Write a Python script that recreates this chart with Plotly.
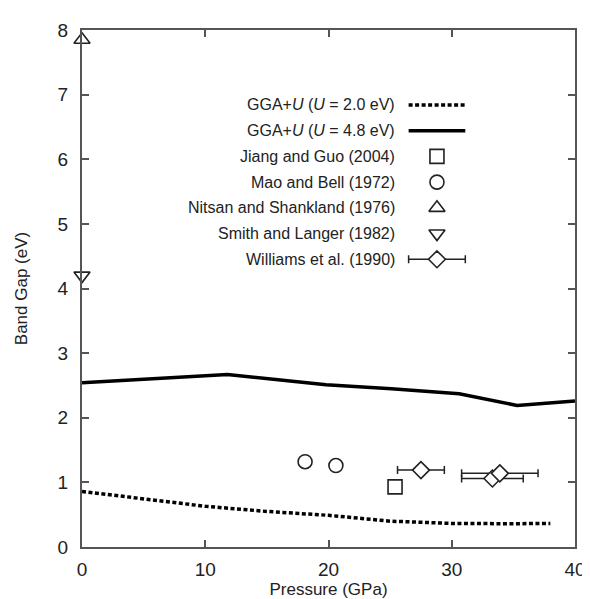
import plotly.graph_objects as go

# ---- data ----
u20_p = [0, 5, 10, 15, 20, 25, 30, 35, 38]
u20_gap = [0.86, 0.74, 0.63, 0.55, 0.49, 0.40, 0.365, 0.36, 0.365]

u48_p = [0, 5, 11.8, 19.8, 25.1, 30.6, 35.3, 40]
u48_gap = [2.54, 2.60, 2.67, 2.51, 2.45, 2.37, 2.19, 2.26]

jiang_p = [25.4]
jiang_gap = [0.93]

mao_p = [18.1, 20.6]
mao_gap = [1.32, 1.26]

nitsan_p = [0]
nitsan_gap = [7.85]

smith_p = [0]
smith_gap = [4.2]

williams_p = [27.5, 33.3, 33.9]
williams_gap = [1.19, 1.06, 1.14]
williams_err = [1.9, 2.5, 3.1]

legend_labels = [
    "GGA+<i>U</i> (<i>U</i> = 2.0 eV)",
    "GGA+<i>U</i> (<i>U</i> = 4.8 eV)",
    "Jiang and Guo (2004)",
    "Mao and Bell (1972)",
    "Nitsan and Shankland (1976)",
    "Smith and Langer (1982)",
    "Williams et al. (1990)",
]

FONT = "Liberation Sans, Arial, sans-serif"
TXT = "#222222"
AX = "#555555"
MK = dict(color="white", line=dict(color="#222222", width=1.6))

fig = go.Figure()

fig.add_trace(go.Scatter(x=u20_p, y=u20_gap, mode="lines",
                         line=dict(color="black", width=3.5, dash="4px,2.5px"),
                         showlegend=False, cliponaxis=False))
fig.add_trace(go.Scatter(x=u48_p, y=u48_gap, mode="lines",
                         line=dict(color="black", width=3.5),
                         showlegend=False, cliponaxis=False))
fig.add_trace(go.Scatter(x=jiang_p, y=jiang_gap, mode="markers",
                         marker=dict(symbol="square", size=14, **MK),
                         showlegend=False, cliponaxis=False))
fig.add_trace(go.Scatter(x=mao_p, y=mao_gap, mode="markers",
                         marker=dict(symbol="circle", size=14, **MK),
                         showlegend=False, cliponaxis=False))
fig.add_trace(go.Scatter(x=nitsan_p, y=nitsan_gap, mode="markers",
                         marker=dict(symbol="triangle-up", size=14, **MK),
                         showlegend=False, cliponaxis=False))
fig.add_trace(go.Scatter(x=smith_p, y=smith_gap, mode="markers",
                         marker=dict(symbol="triangle-down", size=14, **MK),
                         showlegend=False, cliponaxis=False))
fig.add_trace(go.Scatter(x=williams_p, y=williams_gap, mode="markers",
                         marker=dict(symbol="diamond", size=13, **MK),
                         error_x=dict(type="data", array=williams_err, color="#222222",
                                      thickness=1.5, width=4),
                         showlegend=False, cliponaxis=False))

# ---- custom legend (text left, sample right) ----
leg_text_x = 25.55
leg_x0, leg_x1 = 26.5, 31.1
leg_xc = (leg_x0 + leg_x1) / 2
leg_y0, leg_dy = 6.84, 0.398
rows = [leg_y0 - i * leg_dy for i in range(len(legend_labels))]

for lab, yy in zip(legend_labels, rows):
    fig.add_annotation(x=leg_text_x, y=yy, text=lab, showarrow=False,
                       xanchor="right", yanchor="middle",
                       font=dict(family=FONT, size=16, color=TXT))

fig.add_trace(go.Scatter(x=[leg_x0, leg_x1], y=[rows[0]] * 2, mode="lines",
                         line=dict(color="black", width=3.5, dash="4px,2.5px"),
                         showlegend=False))
fig.add_trace(go.Scatter(x=[leg_x0, leg_x1], y=[rows[1]] * 2, mode="lines",
                         line=dict(color="black", width=3.5), showlegend=False))
for sym, yy, sz in [("square", rows[2], 14), ("circle", rows[3], 14),
                    ("triangle-up", rows[4], 14), ("triangle-down", rows[5], 14)]:
    fig.add_trace(go.Scatter(x=[leg_xc], y=[yy], mode="markers",
                             marker=dict(symbol=sym, size=sz, **MK), showlegend=False))
fig.add_trace(go.Scatter(x=[leg_xc], y=[rows[6]], mode="markers",
                         marker=dict(symbol="diamond", size=13, **MK),
                         error_x=dict(type="constant", value=(leg_x1 - leg_x0) / 2,
                                      color="#222222", thickness=1.5, width=4),
                         showlegend=False))

axis_common = dict(showline=True, linecolor=AX, linewidth=2, mirror="ticks",
                   ticks="inside", ticklen=7, tickwidth=1.5, tickcolor=AX,
                   showgrid=False, zeroline=False,
                   tickfont=dict(family=FONT, size=19, color=TXT))

fig.update_xaxes(range=[0, 40], tickvals=[0, 10, 20, 30, 40],
                 ticklabelstandoff=4,
                 title=dict(text="Pressure (GPa)", standoff=3,
                            font=dict(family=FONT, size=17, color=TXT)),
                 **axis_common)
fig.update_yaxes(range=[0, 8], tickvals=list(range(0, 9)),
                 ticklabelstandoff=8,
                 title=dict(text="Band Gap (eV)", standoff=26,
                            font=dict(family=FONT, size=17, color=TXT)),
                 **axis_common)

fig.update_layout(width=590, height=599,
                  margin=dict(l=73, r=17, t=22, b=57),
                  plot_bgcolor="white", paper_bgcolor="white",
                  showlegend=False)

fig.write_html("out.html")
